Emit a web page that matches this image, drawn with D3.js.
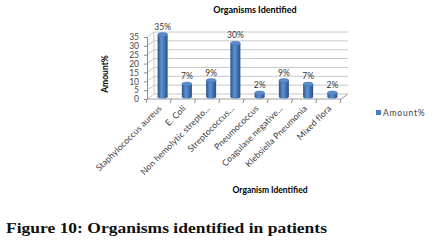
<!DOCTYPE html>
<html>
<head>
<meta charset="utf-8">
<script src="https://cdn.jsdelivr.net/npm/d3@7"></script>
<style>
  body { margin: 0; background: #fff; }
  svg { display: block; }
</style>
</head>
<body>
<div id="chart"></div>
<script>
const width = 434;
const height = 248;

const organisms = ["Staphylococcus aureus", "E. Coli", "Non hemolytic strepto...", "Streptococcus...",
    "Pneumococcus", "Coagulase negative...", "Klebsiella Pneumonia", "Mixed flora"];
const amounts = [35, 7, 9, 30, 2, 9, 7, 2];
const yTicks = [0, 5, 10, 15, 20, 25, 30, 35];

// front edge of the floor and the 3D depth shift
const left = 147, right = 341, floorY = 99, topY = 37;
const depthX = 7, depthY = -5;

const svg = d3.select("#chart").append("svg")
    .attr("width", width)
    .attr("height", height);

const x = d3.scaleBand()
    .domain(organisms)
    .range([left, right]);

const y = d3.scaleLinear()
    .domain([0, 35])
    .range([floorY, topY]);

const grid = "#c8c8c8";

// back wall gridlines + little diagonals on the side wall
yTicks.forEach(t => {
    svg.append("line")
        .attr("x1", left + depthX).attr("x2", right + depthX)
        .attr("y1", y(t) + depthY).attr("y2", y(t) + depthY)
        .attr("stroke", grid).attr("stroke-width", 1);
    svg.append("line")
        .attr("x1", left).attr("x2", left + depthX)
        .attr("y1", y(t)).attr("y2", y(t) + depthY)
        .attr("stroke", grid).attr("stroke-width", 1);
});
svg.append("line")
    .attr("x1", left + depthX).attr("x2", left + depthX)
    .attr("y1", y(0) + depthY).attr("y2", y(35) + depthY)
    .attr("stroke", grid);
// floor front and right edge
svg.append("line")
    .attr("x1", left).attr("x2", right)
    .attr("y1", floorY).attr("y2", floorY)
    .attr("stroke", "#a0a0a0");
svg.append("line")
    .attr("x1", right).attr("x2", right + depthX)
    .attr("y1", floorY).attr("y2", floorY + depthY)
    .attr("stroke", "#a0a0a0");

// y axis
const yAxis = svg.append("g")
    .attr("transform", `translate(${left},0)`)
    .call(d3.axisLeft(y).tickValues(yTicks).tickSize(3).tickPadding(5));
yAxis.select(".domain").attr("stroke", "#8c8c8c");
yAxis.selectAll(".tick line").attr("stroke", "#8c8c8c");
yAxis.selectAll("text")
    .style("font-family", "Lato")
    .style("font-size", "8.5px")
    .attr("fill", "#4a4a4a");

// x axis labels
const xAxis = svg.append("g")
    .attr("transform", `translate(0,${floorY})`)
    .call(d3.axisBottom(x).tickSize(0).tickPadding(0));
xAxis.select(".domain").remove();
xAxis.selectAll("text")
    .attr("y", 0).attr("dy", 0)
    .attr("transform", "translate(3,10) rotate(-45)")
    .style("text-anchor", "end")
    .style("font-family", "Lato")
    .style("font-size", "8.7px")
    .style("letter-spacing", "0.1px")
    .attr("fill", "#404040");

// category boundary ticks
organisms.concat([null]).forEach((d, i) => {
    const tx = left + i * x.bandwidth();
    svg.append("line")
        .attr("x1", tx).attr("x2", tx - 1)
        .attr("y1", floorY).attr("y2", floorY + 4)
        .attr("stroke", "#8c8c8c");
});

// cylinder gradient
const defs = svg.append("defs");
const grad = defs.append("linearGradient").attr("id", "cyl")
    .attr("x1", "0%").attr("x2", "100%");
grad.append("stop").attr("offset", "0%").attr("stop-color", "#2b5288");
grad.append("stop").attr("offset", "40%").attr("stop-color", "#5e93d6");
grad.append("stop").attr("offset", "100%").attr("stop-color", "#2a4f85");

const barW = 10, capR = 2;
const bars = svg.selectAll(".bar")
    .data(organisms)
    .enter().append("g")
    .attr("class", "bar");

bars.append("rect")
    .attr("x", (d) => x(d) + x.bandwidth() / 2 + depthX / 2 - barW / 2)
    .attr("y", (d, i) => y(amounts[i]) + depthY / 2)
    .attr("width", barW)
    .attr("height", (d, i) => y(0) - y(amounts[i]))
    .attr("fill", "url(#cyl)");
bars.append("ellipse")
    .attr("cx", (d) => x(d) + x.bandwidth() / 2 + depthX / 2)
    .attr("cy", (d) => y(0) + depthY / 2)
    .attr("rx", barW / 2).attr("ry", capR)
    .attr("fill", "url(#cyl)");
bars.append("ellipse")
    .attr("cx", (d) => x(d) + x.bandwidth() / 2 + depthX / 2)
    .attr("cy", (d, i) => y(amounts[i]) + depthY / 2)
    .attr("rx", barW / 2).attr("ry", capR)
    .attr("fill", "#5a8ccc")
    .attr("stroke", "#3f6fae").attr("stroke-width", 0.5);

// value labels
bars.append("text")
    .attr("x", (d) => x(d) + x.bandwidth() / 2 + depthX / 2)
    .attr("y", (d, i) => y(amounts[i]) + depthY / 2 - 5)
    .text((d, i) => amounts[i] + "%")
    .style("text-anchor", "middle")
    .style("font-family", "Lato")
    .style("font-size", "8.5px")
    .attr("fill", "#333");

// title
svg.append("text")
    .attr("x", 255).attr("y", 13)
    .text("Organisms Identified")
    .style("text-anchor", "middle")
    .style("font-family", "Lato")
    .style("font-weight", "bold")
    .style("font-size", "9px");

// axis titles
svg.append("text")
    .attr("transform", "translate(108,74) rotate(-90)")
    .text("Amount%")
    .style("text-anchor", "middle")
    .style("font-family", "Lato")
    .style("font-weight", "bold")
    .style("font-size", "8.5px");

svg.append("text")
    .attr("x", 270).attr("y", 193)
    .text("Organism Identified")
    .style("text-anchor", "middle")
    .style("font-family", "Lato")
    .style("font-weight", "bold")
    .style("font-size", "8.5px");

// legend
svg.append("rect")
    .attr("x", 376).attr("y", 110)
    .attr("width", 5).attr("height", 5)
    .attr("fill", "#4a7ebb");
svg.append("text")
    .attr("x", 383).attr("y", 116)
    .text("Amount%")
    .style("font-family", "Lato")
    .style("font-size", "8.5px")
    .style("letter-spacing", "0.8px")
    .attr("fill", "#404040");

// figure caption
svg.append("text")
    .attr("x", 6).attr("y", 233)
    .attr("textLength", 321)
    .attr("lengthAdjust", "spacingAndGlyphs")
    .text("Figure 10: Organisms identified in patients")
    .style("font-family", "Liberation Serif")
    .style("font-weight", "bold")
    .style("font-size", "15.5px")
    .attr("fill", "#111");
</script>
</body>
</html>
